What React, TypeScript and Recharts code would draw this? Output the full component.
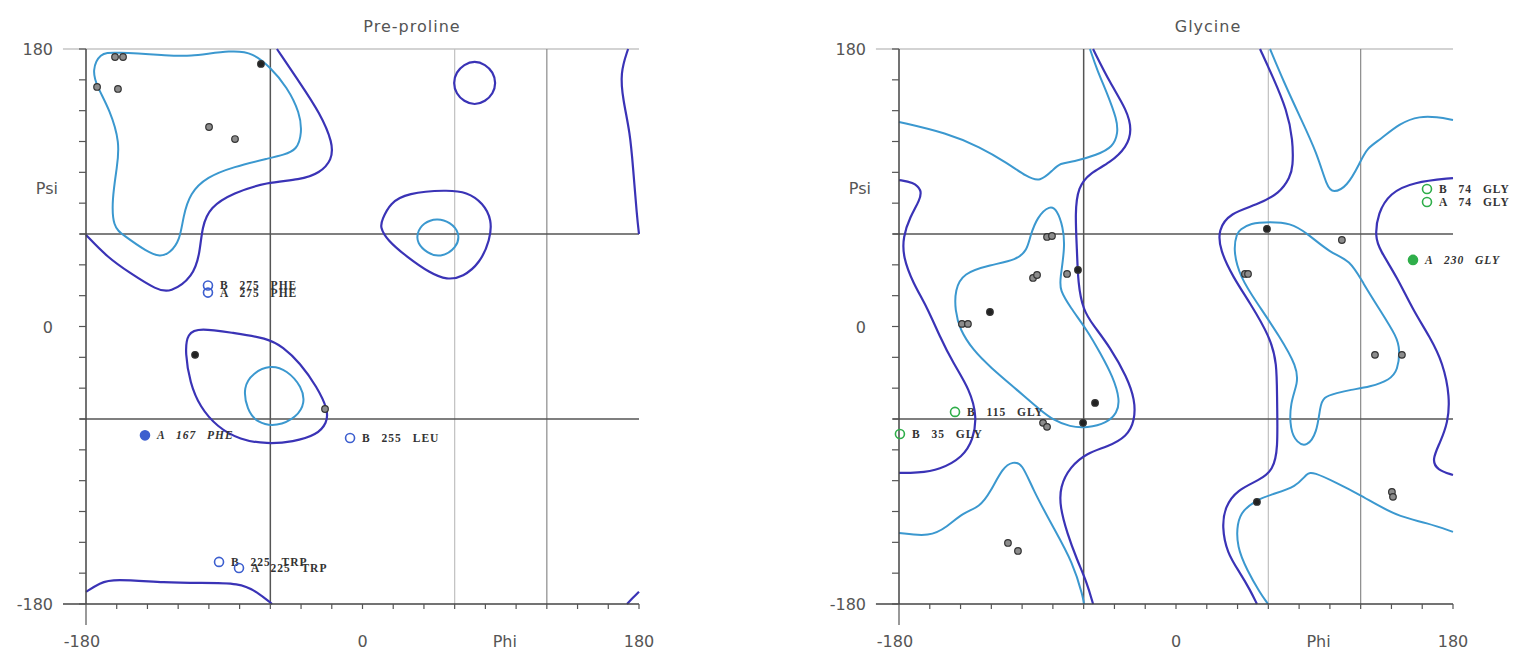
import * as React from 'react';
import {
	ComposedChart,
	Line,
	Scatter,
	XAxis,
	YAxis,
	ReferenceLine,
} from 'recharts';

type Pt = { phi: number; psi: number };
type Outlier = Pt & { label: string };

const AXIS_TICKS = [-180, -160, -140, -120, -100, -80, -60, -40, -20, 0, 20, 40, 60, 80, 100, 120, 140, 160, 180, 90];
const LABELLED_TICKS = [-180, 0, 180];
const NAME_TICK = 90;

const DARK_PHI_LINES = [-60];
const DARK_PSI_LINES = [60, -60];
const LIGHT_PHI_LINES = [60];
const MID_PHI_LINES = [120];
const TOP_PSI = 180;
const BOTTOM_PSI = -180;

// ---------- Pre-proline ----------
const PRE_DARK_TOPLEFT: Pt[] = [
	{ phi: -55.7, psi: 180 }, { phi: -40.7, psi: 158 }, { phi: -27.7, psi: 138.5 }, { phi: -19.2, psi: 119 },
	{ phi: -19.9, psi: 108 }, { phi: -27.7, psi: 99.6 }, { phi: -40.7, psi: 95 }, { phi: -62.2, psi: 93.7 },
	{ phi: -84.3, psi: 86.6 }, { phi: -99.3, psi: 77.5 }, { phi: -104.5, psi: 64.6 }, { phi: -105.8, psi: 47.7 },
	{ phi: -110.3, psi: 32.1 }, { phi: -125.3, psi: 21.8 }, { phi: -133.8, psi: 23.7 }, { phi: -151.4, psi: 34.7 },
	{ phi: -166.3, psi: 45.1 }, { phi: -180, psi: 59.4 },
];
const PRE_DARK_BOTTOMLEFT: Pt[] = [
	{ phi: -180, psi: -172.1 }, { phi: -170.9, psi: -166.3 }, { phi: -162.4, psi: -163.7 }, { phi: -127.3, psi: -166.3 },
	{ phi: -105.8, psi: -166.3 }, { phi: -79.7, psi: -166.3 }, { phi: -68.7, psi: -172.1 }, { phi: -58.9, psi: -180 },
];
const PRE_DARK_RIGHTTOP: Pt[] = [
	{ phi: 172.9, psi: 180 }, { phi: 167.7, psi: 164.4 }, { phi: 169.6, psi: 146.9 }, { phi: 174.2, psi: 125.5 },
	{ phi: 176.1, psi: 103.5 }, { phi: 178.7, psi: 71 }, { phi: 180, psi: 60 },
];
const PRE_DARK_RIGHTBOTTOM: Pt[] = [
	{ phi: 172.2, psi: -180 }, { phi: 176, psi: -176 }, { phi: 180, psi: -172 },
];
const PRE_DARK_RING: Pt[] = [
	{ phi: 87, psi: 158 }, { phi: 85, psi: 165 }, { phi: 80, psi: 170 }, { phi: 73, psi: 172.5 }, { phi: 66, psi: 170 },
	{ phi: 61, psi: 165 }, { phi: 59, psi: 158 }, { phi: 61, psi: 151 }, { phi: 66, psi: 146 }, { phi: 73, psi: 143.5 },
	{ phi: 80, psi: 146 }, { phi: 85, psi: 151 },
];
const PRE_DARK_LEFTHAND: Pt[] = [
	{ phi: 12.7, psi: 69.1 }, { phi: 17.9, psi: 80.1 }, { phi: 29, psi: 86.6 }, { phi: 55, psi: 88.6 }, { phi: 68, psi: 87.3 },
	{ phi: 78.5, psi: 80.1 }, { phi: 84.3, psi: 69.1 }, { phi: 83, psi: 56.1 }, { phi: 76.5, psi: 41.2 }, { phi: 65.4, psi: 32.1 },
	{ phi: 55, psi: 30.2 }, { phi: 43.9, psi: 34.7 }, { phi: 29, psi: 45.1 }, { phi: 16, psi: 56.1 }, { phi: 11.4, psi: 64.6 },
];
const PRE_DARK_ALPHA: Pt[] = [
	{ phi: -114.2, psi: -4.2 }, { phi: -105.8, psi: -0.9 }, { phi: -84.3, psi: -4.2 }, { phi: -62.2, psi: -7.4 },
	{ phi: -51.7, psi: -13.3 }, { phi: -40.7, psi: -23.6 }, { phi: -29.6, psi: -39.2 }, { phi: -22.4, psi: -54.1 },
	{ phi: -23.1, psi: -62.5 }, { phi: -29.6, psi: -70.3 }, { phi: -45.2, psi: -74.9 }, { phi: -62.2, psi: -76.2 },
	{ phi: -79.7, psi: -73.6 }, { phi: -94.7, psi: -65.1 }, { phi: -105.8, psi: -52.2 }, { phi: -112.3, psi: -36.6 },
	{ phi: -115.5, psi: -17.1 },
];
const PRE_LIGHT_BETA: Pt[] = [
	{ phi: -170.9, psi: 177.4 }, { phi: -162.4, psi: 178 }, { phi: -127.3, psi: 176 }, { phi: -114.2, psi: 174.8 },
	{ phi: -84.3, psi: 179.4 }, { phi: -71.3, psi: 177.4 }, { phi: -60.2, psi: 168.3 }, { phi: -49.1, psi: 155.4 },
	{ phi: -40.7, psi: 138.5 }, { phi: -39.4, psi: 125.5 }, { phi: -42.6, psi: 114.5 }, { phi: -51.7, psi: 111.3 },
	{ phi: -60.2, psi: 109.3 }, { phi: -84.3, psi: 103.5 }, { phi: -101.2, psi: 97 }, { phi: -112.3, psi: 86.6 },
	{ phi: -116.8, psi: 71 }, { phi: -118.8, psi: 56.1 }, { phi: -125.3, psi: 47.7 }, { phi: -131.8, psi: 45.1 },
	{ phi: -140.3, psi: 48.4 }, { phi: -155.9, psi: 59.4 }, { phi: -162.4, psi: 64.6 }, { phi: -163.1, psi: 82.1 },
	{ phi: -159.8, psi: 103.5 }, { phi: -157.9, psi: 119 }, { phi: -164.4, psi: 140.4 }, { phi: -172.8, psi: 155.4 },
	{ phi: -176.1, psi: 166.4 },
];
const PRE_LIGHT_LEFTHAND: Pt[] = [
	{ phi: 35.5, psi: 60.7 }, { phi: 39.4, psi: 67.2 }, { phi: 48.5, psi: 70.4 }, { phi: 57, psi: 67.8 }, { phi: 63.5, psi: 60.7 },
	{ phi: 61.5, psi: 51 }, { phi: 50.5, psi: 44.5 }, { phi: 42, psi: 47.7 }, { phi: 35.5, psi: 54.2 },
];
const PRE_LIGHT_ALPHA: Pt[] = [
	{ phi: -77.8, psi: -39.2 }, { phi: -71.3, psi: -30.1 }, { phi: -60.2, psi: -24.9 }, { phi: -49.1, psi: -28.2 },
	{ phi: -39.4, psi: -39.2 }, { phi: -37.4, psi: -49.6 }, { phi: -42.6, psi: -58.7 }, { phi: -55.7, psi: -65.1 },
	{ phi: -68.7, psi: -62.5 }, { phi: -75.2, psi: -54.1 },
];
const PRE_POINTS: Pt[] = [
	{ phi: -161.1, psi: 174.8 }, { phi: -155.9, psi: 174.8 }, { phi: -172.8, psi: 155.4 }, { phi: -159.2, psi: 154.1 },
	{ phi: -99.9, psi: 129.4 }, { phi: -83, psi: 121.6 }, { phi: -24.4, psi: -53.5 },
];
const PRE_POINTS_DARK: Pt[] = [
	{ phi: -66.1, psi: 170.3 }, { phi: -109, psi: -18.4 },
];
const PRE_OUTLIERS: Outlier[] = [
	{ phi: -100.6, psi: 26.6, label: 'B 275 PHE' },
	{ phi: -100.6, psi: 22, label: 'A 275 PHE' },
	{ phi: -8.1, psi: -72.3, label: 'B 255 LEU' },
	{ phi: -93.4, psi: -152.7, label: 'B 225 TRP' },
	{ phi: -80.4, psi: -156.6, label: 'A 225 TRP' },
];
const PRE_OUTLIERS_DARK: Outlier[] = [
	{ phi: -141.6, psi: -70.6, label: 'A 167 PHE' },
];

// ---------- Glycine ----------
const GLY_DARK_LEFT: Pt[] = [
	{ phi: -180, psi: 95 }, { phi: -170.9, psi: 93.7 }, { phi: -165.1, psi: 88.6 }, { phi: -166.4, psi: 82.1 },
	{ phi: -172.9, psi: 71 }, { phi: -177.4, psi: 58.1 }, { phi: -177.4, psi: 45.1 }, { phi: -170.9, psi: 28.2 },
	{ phi: -161.8, psi: 12.7 }, { phi: -153.4, psi: -6.8 }, { phi: -144.9, psi: -23.6 }, { phi: -133.9, psi: -41.1 },
	{ phi: -129.3, psi: -58.7 }, { phi: -131.9, psi: -73.6 }, { phi: -138.4, psi: -84.6 }, { phi: -153.4, psi: -93 },
	{ phi: -168.3, psi: -95 }, { phi: -180, psi: -95 },
];
const GLY_DARK_RIGHT: Pt[] = [
	{ phi: 180, psi: 96.3 }, { phi: 154, psi: 93.7 }, { phi: 139, psi: 86.6 }, { phi: 131.2, psi: 73.6 },
	{ phi: 129.3, psi: 58.1 }, { phi: 132.5, psi: 49.6 }, { phi: 143.6, psi: 32.1 }, { phi: 154, psi: 10.7 },
	{ phi: 165, psi: -6.8 }, { phi: 173.5, psi: -23.6 }, { phi: 178, psi: -45.7 }, { phi: 176.7, psi: -62.5 },
	{ phi: 171.5, psi: -75.5 }, { phi: 166.3, psi: -86.5 }, { phi: 169.6, psi: -93 }, { phi: 180, psi: -96.3 },
];
const GLY_DARK_MINUS60: Pt[] = [
	{ phi: -53.9, psi: 180 }, { phi: -42.9, psi: 158 }, { phi: -31.9, psi: 140.4 }, { phi: -28.6, psi: 127.5 },
	{ phi: -31.9, psi: 116.4 }, { phi: -42.9, psi: 106.1 }, { phi: -55.9, psi: 99.6 }, { phi: -63.7, psi: 90.5 },
	{ phi: -65.6, psi: 73.6 }, { phi: -64.3, psi: 49.6 }, { phi: -63.7, psi: 28.2 }, { phi: -60.4, psi: 10.7 },
	{ phi: -53.9, psi: 1 }, { phi: -42.9, psi: -13.3 }, { phi: -31.9, psi: -32.7 }, { phi: -26.7, psi: -47.6 },
	{ phi: -26.7, psi: -60.6 }, { phi: -31.9, psi: -71.6 }, { phi: -44.8, psi: -78.1 }, { phi: -57.8, psi: -82 },
	{ phi: -68.9, psi: -91.1 }, { phi: -75.4, psi: -104 }, { phi: -75.4, psi: -117 }, { phi: -70.8, psi: -133.9 },
	{ phi: -64.3, psi: -151.4 }, { phi: -57.8, psi: -166.3 }, { phi: -53.9, psi: -180 },
];
const GLY_DARK_PLUS60: Pt[] = [
	{ phi: 54.6, psi: 180 }, { phi: 63, psi: 161.8 }, { phi: 72.1, psi: 140.4 }, { phi: 76, psi: 121 },
	{ phi: 76, psi: 103.5 }, { phi: 74.1, psi: 97 }, { phi: 67.6, psi: 86.6 }, { phi: 52.6, psi: 78.8 },
	{ phi: 35.1, psi: 73.6 }, { phi: 27.3, psi: 62.6 }, { phi: 28.6, psi: 49.6 }, { phi: 37, psi: 32.1 },
	{ phi: 48.1, psi: 15.3 }, { phi: 61.1, psi: -6.8 }, { phi: 65.6, psi: -23.6 }, { phi: 65.6, psi: -47.6 },
	{ phi: 66.3, psi: -80 }, { phi: 63, psi: -93 }, { phi: 54.6, psi: -99.5 }, { phi: 39.6, psi: -106 },
	{ phi: 31.8, psi: -117 }, { phi: 29.9, psi: -130 }, { phi: 33.1, psi: -146.8 }, { phi: 41.6, psi: -159.8 },
	{ phi: 48.1, psi: -170.8 }, { phi: 52.6, psi: -180 },
];
const GLY_LIGHT_TOPLEFT: Pt[] = [
	{ phi: -180, psi: 132.7 }, { phi: -148.8, psi: 125.5 }, { phi: -127.4, psi: 116.4 }, { phi: -109.8, psi: 106.1 },
	{ phi: -96.8, psi: 97 }, { phi: -88.4, psi: 93.7 }, { phi: -79.9, psi: 101.5 }, { phi: -75.4, psi: 106.1 },
	{ phi: -66.9, psi: 106.7 }, { phi: -51.3, psi: 111.3 }, { phi: -40.9, psi: 116.4 }, { phi: -37.7, psi: 125.5 },
	{ phi: -38.3, psi: 134 }, { phi: -44.8, psi: 151.5 }, { phi: -51.3, psi: 166.4 }, { phi: -55.9, psi: 180 },
];
const GLY_LIGHT_TOPRIGHT: Pt[] = [
	{ phi: 180, psi: 134 }, { phi: 169.6, psi: 135.9 }, { phi: 158.5, psi: 136.5 }, { phi: 145.5, psi: 132 },
	{ phi: 132.5, psi: 121 }, { phi: 124.1, psi: 115.8 }, { phi: 119.5, psi: 106.1 }, { phi: 111.1, psi: 90.5 },
	{ phi: 102, psi: 86.6 }, { phi: 98.1, psi: 90.5 }, { phi: 91.6, psi: 112.6 }, { phi: 80.6, psi: 135.9 },
	{ phi: 69.5, psi: 159.9 }, { phi: 61.1, psi: 180 },
];
const GLY_LIGHT_BOTTOMLEFT: Pt[] = [
	{ phi: -180, psi: -133.9 }, { phi: -159.9, psi: -136.5 }, { phi: -148.8, psi: -130 }, { phi: -138.5, psi: -120.9 },
	{ phi: -127.4, psi: -117 }, { phi: -120.9, psi: -107.9 }, { phi: -112.4, psi: -91.1 }, { phi: -105.9, psi: -87.8 },
	{ phi: -100.1, psi: -88.5 }, { phi: -92.9, psi: -106 }, { phi: -79.9, psi: -130 }, { phi: -66.9, psi: -153.3 },
	{ phi: -60.4, psi: -175.4 }, { phi: -59.8, psi: -180 },
];
const GLY_LIGHT_BOTTOMRIGHT: Pt[] = [
	{ phi: 180, psi: -133.2 }, { phi: 163.1, psi: -127.4 }, { phi: 145.5, psi: -123.5 }, { phi: 130.6, psi: -115.7 },
	{ phi: 119.5, psi: -109.2 }, { phi: 104.6, psi: -101.5 }, { phi: 89, psi: -94.3 }, { phi: 85.1, psi: -95 },
	{ phi: 78.6, psi: -104 }, { phi: 61.1, psi: -109.2 }, { phi: 52.6, psi: -112.5 }, { phi: 43.5, psi: -119 },
	{ phi: 39.6, psi: -127.4 }, { phi: 39.6, psi: -143 }, { phi: 46.1, psi: -157.9 }, { phi: 54.6, psi: -172.8 },
	{ phi: 59.8, psi: -180 },
];
const GLY_LIGHT_LEFTLOOP: Pt[] = [
	{ phi: -81.9, psi: 78.8 }, { phi: -90.3, psi: 71 }, { phi: -94.9, psi: 58.1 }, { phi: -96.8, psi: 49.6 },
	{ phi: -103.3, psi: 43.2 }, { phi: -120.9, psi: 39.9 }, { phi: -138.4, psi: 34.7 }, { phi: -143.6, psi: 23.7 },
	{ phi: -143.6, psi: 10.7 }, { phi: -140.4, psi: -2.3 }, { phi: -131.9, psi: -15.2 }, { phi: -120.9, psi: -26.2 },
	{ phi: -103.3, psi: -41.1 }, { phi: -88.4, psi: -54.1 }, { phi: -79.9, psi: -60.6 }, { phi: -68.9, psi: -65.1 },
	{ phi: -57.8, psi: -65.8 }, { phi: -44.8, psi: -62.5 }, { phi: -38.3, psi: -56.1 }, { phi: -36.4, psi: -47.6 },
	{ phi: -40.9, psi: -32.7 }, { phi: -49.3, psi: -17.1 }, { phi: -57.8, psi: -2.3 }, { phi: -68.9, psi: 12.7 },
	{ phi: -75.4, psi: 23.7 }, { phi: -75.4, psi: 30.2 }, { phi: -72.1, psi: 51.6 }, { phi: -73.4, psi: 64.6 },
	{ phi: -77.3, psi: 75.6 },
];
const GLY_LIGHT_RIGHTLOOP: Pt[] = [
	{ phi: 41.6, psi: 62.6 }, { phi: 48.1, psi: 67.2 }, { phi: 61.1, psi: 67.8 }, { phi: 74.1, psi: 67.2 },
	{ phi: 85.1, psi: 60.7 }, { phi: 100.1, psi: 47.7 }, { phi: 113.1, psi: 43.2 }, { phi: 121.5, psi: 28.2 },
	{ phi: 132.5, psi: 10.7 }, { phi: 143.6, psi: -6.8 }, { phi: 145.5, psi: -15.2 }, { phi: 144.2, psi: -28.2 },
	{ phi: 139, psi: -34.7 }, { phi: 126, psi: -39.2 }, { phi: 113.1, psi: -41.1 }, { phi: 104.6, psi: -43.1 },
	{ phi: 95.5, psi: -45.7 }, { phi: 93.6, psi: -52.2 }, { phi: 91.6, psi: -69 }, { phi: 85.1, psi: -78.1 },
	{ phi: 78.6, psi: -75.5 }, { phi: 74.1, psi: -67.1 }, { phi: 74.1, psi: -49.6 }, { phi: 79.3, psi: -36.6 },
	{ phi: 78.6, psi: -26.2 }, { phi: 67.6, psi: -6.8 }, { phi: 52.6, psi: 15.3 }, { phi: 41.6, psi: 32.1 },
	{ phi: 37.1, psi: 49.6 }, { phi: 39.6, psi: 60.7 },
];
const GLY_POINTS: Pt[] = [
	{ phi: -83.8, psi: 58.1 }, { phi: -80.6, psi: 58.7 }, { phi: -92.9, psi: 31.5 }, { phi: -90.3, psi: 33.4 },
	{ phi: -70.8, psi: 34.1 }, { phi: -139.1, psi: 1.7 }, { phi: -135.2, psi: 1.7 }, { phi: -86.4, psi: -62.5 },
	{ phi: -83.8, psi: -65.1 }, { phi: -109.2, psi: -140.4 }, { phi: -102.7, psi: -145.6 }, { phi: 107.8, psi: 56.1 },
	{ phi: 44.8, psi: 34.1 }, { phi: 46.8, psi: 34.1 }, { phi: 129.3, psi: -18.4 }, { phi: 146.8, psi: -18.4 },
	{ phi: 140.3, psi: -107.3 }, { phi: 141, psi: -110.5 },
];
const GLY_POINTS_DARK: Pt[] = [
	{ phi: -63.7, psi: 36.7 }, { phi: -120.9, psi: 9.4 }, { phi: -52.6, psi: -49.6 }, { phi: -60.4, psi: -62.5 },
	{ phi: 59.1, psi: 63.3 }, { phi: 52.6, psi: -113.8 },
];
const GLY_OUTLIERS: Outlier[] = [
	{ phi: 163.1, psi: 89.2, label: 'B 74 GLY' },
	{ phi: 163.1, psi: 80.8, label: 'A 74 GLY' },
	{ phi: -143.6, psi: -55.4, label: 'B 115 GLY' },
	{ phi: -179.4, psi: -69.7, label: 'B 35 GLY' },
];
const GLY_OUTLIERS_DARK: Outlier[] = [
	{ phi: 154, psi: 43.2, label: 'A 230 GLY' },
];

const DARK = '#3a33b6';
const LIGHT = '#3b98cf';
const AXIS_FONT = '"DejaVu Sans", sans-serif';

const YTick = (props: any) => {
	const { x, y, payload } = props;
	const v = payload.value;
	let text: string | null = null;
	if (v === NAME_TICK) text = 'Psi';
	else if (LABELLED_TICKS.includes(v)) text = String(v);
	return (
		<g>
			{v !== NAME_TICK && <line x1={x - 7} x2={x} y1={y} y2={y} stroke='#555' strokeWidth={1.2} />}
			{text && (
				<text x={v === NAME_TICK ? x - 28 : x - 33} y={y} dy={6} textAnchor='end' fontSize={16} fill='#555' fontFamily={AXIS_FONT}>
					{text}
				</text>
			)}
		</g>
	);
};

const XTick = (props: any) => {
	const { x, y, payload } = props;
	const v = payload.value;
	let text: string | null = null;
	if (v === NAME_TICK) text = 'Phi';
	else if (LABELLED_TICKS.includes(v)) text = String(v);
	return (
		<g>
			{v !== NAME_TICK && <line x1={x} x2={x} y1={y} y2={v === -180 ? y + 21 : y + 5} stroke='#555' strokeWidth={1.2} />}
			{text && (
				<text x={v === NAME_TICK ? x + 4 : v === -180 ? x - 4 : x} y={y + 43} textAnchor='middle' fontSize={16} fill='#555' fontFamily={AXIS_FONT}>
					{text}
				</text>
			)}
		</g>
	);
};

const pointShape = (fill: string) => (props: any) => {
	const { cx, cy } = props;
	if (cx == null || cy == null) return <g />;
	return <circle cx={cx} cy={cy} r={3.3} fill={fill} stroke='#333' strokeWidth={1.2} />;
};

const outlierShape = (stroke: string, fill: string, italic: boolean) => (props: any) => {
	const { cx, cy, payload } = props;
	if (cx == null || cy == null) return <g />;
	return (
		<g>
			<circle cx={cx} cy={cy} r={4.5} fill={fill} stroke={stroke} strokeWidth={1.6} />
			<text
				x={cx + 12}
				y={cy + 4}
				fontSize={11.5}
				fontWeight='bold'
				fontStyle={italic ? 'italic' : 'normal'}
				fill='#333'
				fontFamily='"Liberation Serif", serif'
				style={{ letterSpacing: 1, wordSpacing: 7 }}
			>
				{payload.label}
			</text>
		</g>
	);
};

type PanelProps = {
	width: number;
	margin: { top: number; right: number; bottom: number; left: number };
	darkOpen: Pt[][];
	darkClosed: Pt[][];
	lightOpen: Pt[][];
	lightClosed: Pt[][];
	points: Pt[];
	pointsDark: Pt[];
	outliers: Outlier[];
	outliersDark: Outlier[];
	outlierColor: string;
};

function Panel(p: PanelProps) {
	return (
		<ComposedChart width={p.width} height={672} margin={p.margin}>
			<XAxis
				type='number'
				dataKey='phi'
				domain={[-180, 180]}
				ticks={AXIS_TICKS}
				interval={0}
				tickSize={0}
				tickMargin={0}
				tickLine={false}
				tick={(t: any) => <XTick {...t} />}
				axisLine={{ stroke: '#444', strokeWidth: 1.5 }}
				height={30}
			/>
			<YAxis
				type='number'
				dataKey='psi'
				domain={[-180, 180]}
				ticks={AXIS_TICKS}
				interval={0}
				tickSize={0}
				tickMargin={0}
				tickLine={false}
				tick={(t: any) => <YTick {...t} />}
				axisLine={{ stroke: '#444', strokeWidth: 1.5 }}
				width={40}
			/>
			<ReferenceLine
				segment={[{ x: -195, y: TOP_PSI }, { x: 180, y: TOP_PSI }]}
				ifOverflow='visible'
				stroke='#c4c4c4'
				strokeWidth={1.5}
			/>
			<ReferenceLine
				segment={[{ x: -195, y: BOTTOM_PSI }, { x: -180, y: BOTTOM_PSI }]}
				ifOverflow='visible'
				stroke='#444'
				strokeWidth={1.5}
			/>
			{LIGHT_PHI_LINES.map((v) => (
				<ReferenceLine key={'l' + v} x={v} stroke='#c0c0c0' strokeWidth={1.2} />
			))}
			{MID_PHI_LINES.map((v) => (
				<ReferenceLine key={'m' + v} x={v} stroke='#8a8a8a' strokeWidth={1.2} />
			))}
			{DARK_PHI_LINES.map((v) => (
				<ReferenceLine key={'dx' + v} x={v} stroke='#555' strokeWidth={1.5} />
			))}
			{DARK_PSI_LINES.map((v) => (
				<ReferenceLine
					key={'dy' + v}
					segment={[{ x: -184, y: v }, { x: 180, y: v }]}
					ifOverflow='visible'
					stroke='#555'
					strokeWidth={1.5}
				/>
			))}
			{p.lightOpen.map((d, i) => (
				<Line key={'lo' + i} data={d} dataKey='psi' type='basis' stroke={LIGHT} strokeWidth={2} dot={false} activeDot={false} isAnimationActive={false} />
			))}
			{p.lightClosed.map((d, i) => (
				<Line key={'lc' + i} data={d} dataKey='psi' type='basisClosed' stroke={LIGHT} strokeWidth={2} dot={false} activeDot={false} isAnimationActive={false} />
			))}
			{p.darkOpen.map((d, i) => (
				<Line key={'do' + i} data={d} dataKey='psi' type='basis' stroke={DARK} strokeWidth={2.2} dot={false} activeDot={false} isAnimationActive={false} />
			))}
			{p.darkClosed.map((d, i) => (
				<Line key={'dc' + i} data={d} dataKey='psi' type='basisClosed' stroke={DARK} strokeWidth={2.2} dot={false} activeDot={false} isAnimationActive={false} />
			))}
			<Scatter data={p.points} dataKey='psi' shape={pointShape('#8c8c8c')} isAnimationActive={false} />
			<Scatter data={p.pointsDark} dataKey='psi' shape={pointShape('#222')} isAnimationActive={false} />
			<Scatter data={p.outliers} dataKey='psi' shape={outlierShape(p.outlierColor, 'none', false)} isAnimationActive={false} />
			<Scatter data={p.outliersDark} dataKey='psi' shape={outlierShape(p.outlierColor, p.outlierColor, true)} isAnimationActive={false} />
		</ComposedChart>
	);
}

const titleStyle: React.CSSProperties = {
	position: 'absolute',
	top: 17,
	fontFamily: AXIS_FONT,
	fontSize: 16,
	letterSpacing: 1,
	color: '#555',
	transform: 'translateX(-50%)',
	whiteSpace: 'nowrap',
};

export default function App() {
	return (
		<div style={{ position: 'relative', width: 1535, height: 672, background: '#fff' }}>
			<style>{'body{margin:0;}'}</style>
			<div style={{ ...titleStyle, left: 412 }}>Pre-proline</div>
			<div style={{ ...titleStyle, left: 1208 }}>Glycine</div>
			<div style={{ display: 'flex', position: 'absolute', left: 0, top: 0 }}>
				<Panel
					width={760}
					margin={{ top: 49, right: 121, bottom: 38, left: 46 }}
					darkOpen={[PRE_DARK_TOPLEFT, PRE_DARK_BOTTOMLEFT, PRE_DARK_RIGHTTOP, PRE_DARK_RIGHTBOTTOM]}
					darkClosed={[PRE_DARK_RING, PRE_DARK_LEFTHAND, PRE_DARK_ALPHA]}
					lightOpen={[]}
					lightClosed={[PRE_LIGHT_BETA, PRE_LIGHT_LEFTHAND, PRE_LIGHT_ALPHA]}
					points={PRE_POINTS}
					pointsDark={PRE_POINTS_DARK}
					outliers={PRE_OUTLIERS}
					outliersDark={PRE_OUTLIERS_DARK}
					outlierColor='#3d5fcf'
				/>
				<Panel
					width={775}
					margin={{ top: 49, right: 82, bottom: 38, left: 99 }}
					darkOpen={[GLY_DARK_LEFT, GLY_DARK_RIGHT, GLY_DARK_MINUS60, GLY_DARK_PLUS60]}
					darkClosed={[]}
					lightOpen={[GLY_LIGHT_TOPLEFT, GLY_LIGHT_TOPRIGHT, GLY_LIGHT_BOTTOMLEFT, GLY_LIGHT_BOTTOMRIGHT]}
					lightClosed={[GLY_LIGHT_LEFTLOOP, GLY_LIGHT_RIGHTLOOP]}
					points={GLY_POINTS}
					pointsDark={GLY_POINTS_DARK}
					outliers={GLY_OUTLIERS}
					outliersDark={GLY_OUTLIERS_DARK}
					outlierColor='#2fae4a'
				/>
			</div>
		</div>
	);
}
